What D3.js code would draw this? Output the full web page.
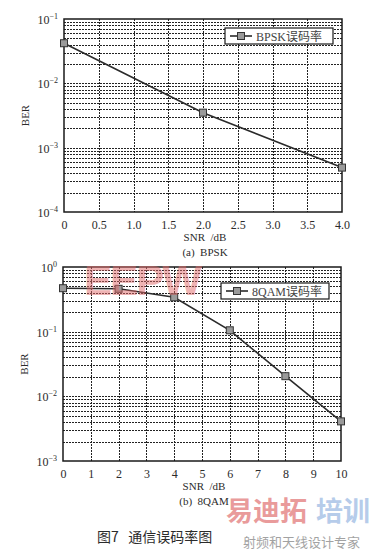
<!DOCTYPE html>
<html>
<head>
<meta charset="utf-8">
<script src="https://cdn.jsdelivr.net/npm/d3@7"></script>
<style>
  body { margin: 0; background: #fff; }
  svg text { font-family: "Liberation Serif", "Noto Sans CJK SC", serif; }
</style>
</head>
<body>
<div id="chart-area"></div>
<script>
// BER curves, two panels

// panel (a) BPSK
const bpskSnr = [0, 2, 4]
const bpskBer = [0.042, 0.0035, 0.00049]
const bpskTicks = [0, 0.5, 1, 1.5, 2, 2.5, 3, 3.5, 4]
const bpskDecades = [-1, -2, -3, -4]

// panel (b) 8QAM
const qamSnr = [0, 2, 4, 6, 8, 10]
const qamBer = [0.47, 0.46, 0.34, 0.105, 0.0205, 0.0041]
const qamTicks = [0, 1, 2, 3, 4, 5, 6, 7, 8, 9, 10]
const qamDecades = [0, -1, -2, -3]

const W = 378, H = 551
const INK = "#2b2b2b"

const svg = d3.select("#chart-area").append("svg")
    .attr("width", W)
    .attr("height", H)

svg.append("rect").attr("width", W).attr("height", H).attr("fill", "#fff")

// crisp 1px lines
const px = v => Math.round(v) + 0.5

function drawPanel(opt) {
  const x = d3.scaleLinear()
      .domain(d3.extent(opt.ticks))
      .range([opt.left, opt.right])
  const y = d3.scaleLog()
      .domain([Math.pow(10, d3.min(opt.decades)), Math.pow(10, d3.max(opt.decades))])
      .range([opt.bottom, opt.top])

  const g = svg.append("g")

  // minor + major horizontal grid
  const hLines = []
  for (let e = d3.min(opt.decades); e < d3.max(opt.decades); e++) {
    for (let m = 1; m <= 9; m++) hLines.push(m * Math.pow(10, e))
  }
  g.selectAll(".hgrid")
    .data(hLines.filter(v => v > y.domain()[0]))
    .enter().append("line")
    .attr("x1", opt.left).attr("x2", opt.right)
    .attr("y1", d => px(y(d))).attr("y2", d => px(y(d)))
    .attr("stroke", "#222")
    .attr("stroke-width", 1)
    .attr("stroke-dasharray", "2,1")

  // vertical grid
  g.selectAll(".vgrid")
    .data(opt.ticks.slice(1, -1))
    .enter().append("line")
    .attr("x1", d => px(x(d))).attr("x2", d => px(x(d)))
    .attr("y1", opt.top).attr("y2", opt.bottom)
    .attr("stroke", "#222")
    .attr("stroke-width", 1)
    .attr("stroke-dasharray", "2,1")

  // frame
  g.append("rect")
    .attr("x", opt.left).attr("y", opt.top)
    .attr("width", opt.right - opt.left).attr("height", opt.bottom - opt.top)
    .attr("fill", "none").attr("stroke", "#1a1a1a").attr("stroke-width", 1.5)

  // x axis labels
  const xAxis = d3.axisBottom(x)
      .tickValues(opt.ticks)
      .tickSize(0)
      .tickPadding(8)
      .tickFormat(opt.fmt)
  const xg = g.append("g")
      .attr("transform", `translate(0, ${opt.bottom})`)
      .call(xAxis)
  xg.select(".domain").remove()
  xg.selectAll("text").attr("font-size", "12px").style("fill", INK)
      .style("font-family", "Liberation Serif")

  // y axis labels 10^n
  const yl = g.selectAll(".ylab")
    .data(opt.decades)
    .enter().append("text")
    .attr("x", opt.left - 6)
    .attr("y", d => y(Math.pow(10, d)) + 5)
    .attr("text-anchor", "end")
    .attr("font-size", "12px")
    .style("fill", INK)
  yl.append("tspan").text("10")
  yl.append("tspan").attr("dy", -5).attr("font-size", "8px")
    .text(d => d === 0 ? "0" : "\u2212" + Math.abs(d))

  g.append("text")
    .attr("transform", `translate(${opt.left - 35}, ${(opt.top + opt.bottom) / 2}) rotate(-90)`)
    .attr("text-anchor", "middle")
    .attr("font-size", "11px")
    .style("fill", INK)
    .text("BER")

  g.append("text")
    .attr("x", (opt.left + opt.right) / 2 + 2)
    .attr("y", opt.bottom + 29)
    .attr("text-anchor", "middle")
    .attr("font-size", "11px")
    .attr("xml:space", "preserve")
    .style("fill", INK)
    .text("SNR  /dB")

  g.append("text")
    .attr("x", (opt.left + opt.right) / 2 + 2)
    .attr("y", opt.bottom + 44)
    .attr("text-anchor", "middle")
    .attr("font-size", "11px")
    .attr("xml:space", "preserve")
    .style("fill", INK)
    .text(opt.caption)

  // curve
  const pts = opt.snr.map((s, i) => [s, opt.ber[i]])
  const line = d3.line().x(d => x(d[0])).y(d => y(d[1]))
  g.append("path")
    .datum(pts)
    .attr("d", line)
    .attr("fill", "none")
    .attr("stroke", "#2a2a2a")
    .attr("stroke-width", 1.6)

  g.selectAll(".mk")
    .data(pts)
    .enter().append("rect")
    .attr("x", d => x(d[0]) - 3.5)
    .attr("y", d => y(d[1]) - 3.5)
    .attr("width", 7).attr("height", 7)
    .attr("fill", "#9a9a9a")
    .attr("stroke", "#333").attr("stroke-width", 1)

  // legend
  const lg = g.append("g").attr("transform", `translate(${opt.leg[0]}, ${opt.leg[1]})`)
  lg.append("rect")
    .attr("width", 108).attr("height", 16)
    .attr("fill", "#fff").attr("stroke", "#1a1a1a").attr("stroke-width", 1.2)
  lg.append("line")
    .attr("x1", 5).attr("x2", 27).attr("y1", 8).attr("y2", 8)
    .attr("stroke", "#2a2a2a").attr("stroke-width", 1.6)
  lg.append("rect")
    .attr("x", 12.5).attr("y", 4.5).attr("width", 7).attr("height", 7)
    .attr("fill", "#9a9a9a").attr("stroke", "#333")
  lg.append("text")
    .attr("x", 31).attr("y", 12.5)
    .attr("font-size", "12px")
    .style("fill", "#444")
    .text(opt.legend)
}

drawPanel({
  left: 64, right: 342, top: 19, bottom: 212,
  snr: bpskSnr, ber: bpskBer, ticks: bpskTicks, decades: bpskDecades,
  fmt: d => d === 0 ? "0" : d3.format(".1f")(d),
  caption: "(a)  BPSK", legend: "BPSK误码率", leg: [225, 28]
})

drawPanel({
  left: 63, right: 341, top: 267, bottom: 461,
  snr: qamSnr, ber: qamBer, ticks: qamTicks, decades: qamDecades,
  fmt: d3.format("d"),
  caption: "(b)  8QAM", legend: "8QAM误码率", leg: [221, 283]
})

// figure caption
svg.append("text")
  .attr("x", 97).attr("y", 542)
  .attr("font-size", "14px")
  .attr("xml:space", "preserve")
  .style("fill", INK)
  .style("font-family", "Noto Sans CJK SC")
  .text("图7   通信误码率图")

// watermarks
svg.append("text")
  .attr("x", 84).attr("y", 295)
  .attr("font-size", "42px").attr("textLength", 118)
  .style("font-family", "Liberation Sans").style("font-weight", "bold")
  .style("fill", "#e06a6a").style("opacity", 0.5)
  .text("EEPW")
svg.append("text")
  .attr("x", 226).attr("y", 521)
  .attr("font-size", "27px")
  .style("font-family", "Noto Sans CJK SC").style("font-weight", "bold")
  .style("fill", "#d84a4a").style("opacity", 0.55)
  .text("易迪拓")
svg.append("text")
  .attr("x", 316).attr("y", 521)
  .attr("font-size", "27px")
  .style("font-family", "Noto Sans CJK SC").style("font-weight", "bold")
  .style("fill", "#6f9ad6").style("opacity", 0.5)
  .text("培训")
svg.append("text")
  .attr("x", 243).attr("y", 547)
  .attr("font-size", "13px")
  .style("font-family", "Noto Sans CJK SC")
  .style("fill", "#666").style("opacity", 0.6)
  .text("射频和天线设计专家")
</script>
</body>
</html>
